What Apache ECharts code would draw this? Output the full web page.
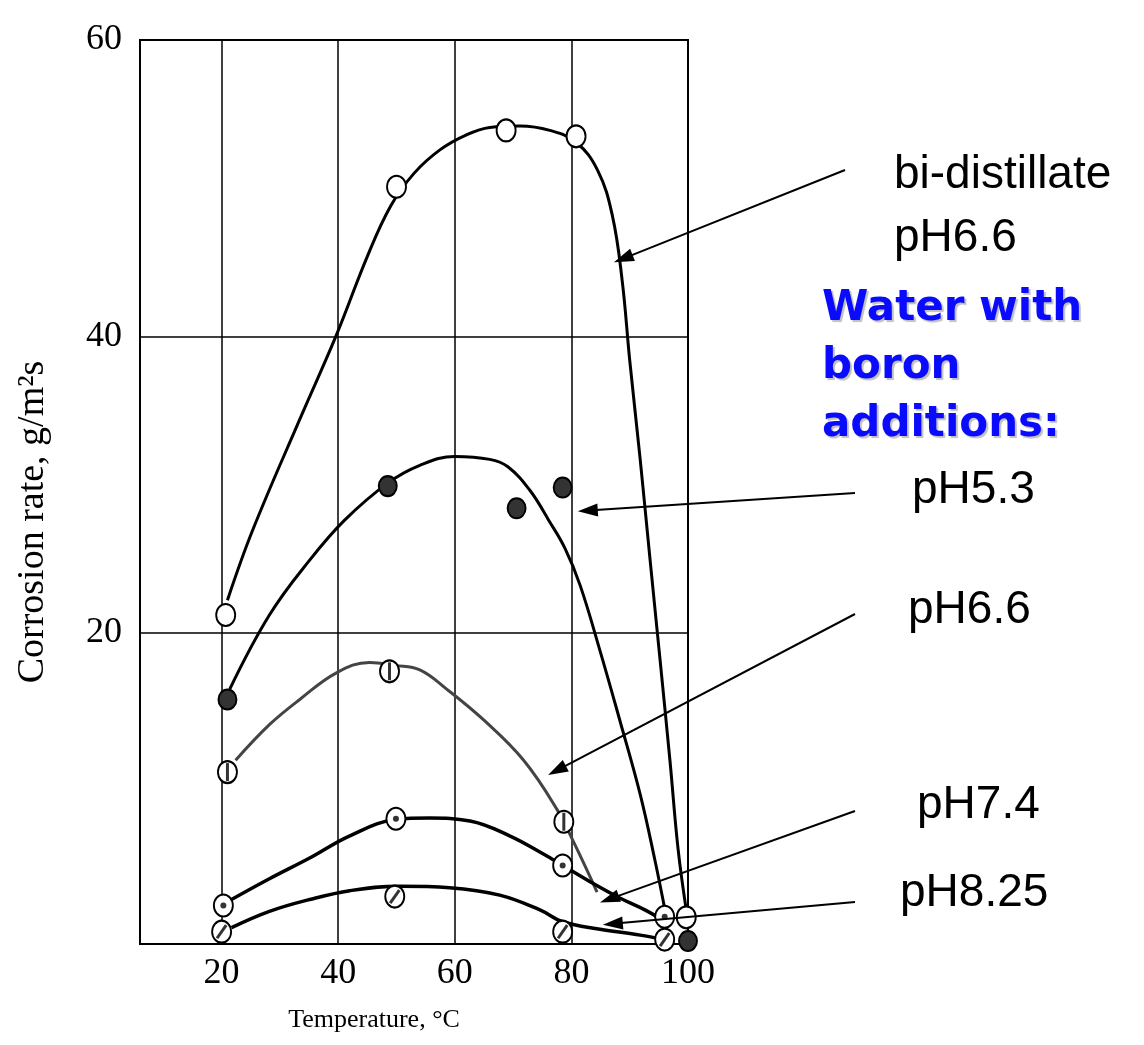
<!DOCTYPE html>
<html><head><meta charset="utf-8">
<script src="https://cdn.jsdelivr.net/npm/echarts@6/dist/echarts.min.js"></script>
<style>html,body{margin:0;padding:0;background:#fff}#main{width:1144px;height:1045px}</style>
</head><body><div id="main"></div>
<script>
// axis ticks
const xTicks = [20, 40, 60, 80, 100];
const yTicks = [20, 40, 60];

// measured points (temperature, corrosion rate)
const bidistT = [20.7, 50.0, 68.8, 80.8, 99.7];
const bidistR = [21.2, 50.1, 53.9, 53.5, 0.8];
const ph53T = [21.0, 48.5, 70.6, 78.5, 100];
const ph53R = [15.5, 29.9, 28.4, 29.8, -0.8];
const ph66T = [21.0, 48.8, 78.7];
const ph66R = [10.6, 17.4, 7.25];
const ph74T = [20.3, 49.9, 78.5, 96.0];
const ph74R = [1.6, 7.45, 4.3, 0.84];
const ph825T = [20.0, 49.7, 78.5, 96.0];
const ph825R = [-0.17, 2.2, -0.17, -0.7];

// hand-drawn fitting curves
const curve1T = [21.0, 25.3, 33.4, 39.7, 45.0, 49.0, 53.0, 57.5, 62.0, 66.0, 71.2, 76.3, 80.8, 84.5, 87.0, 88.7, 90.0, 91.8, 93.5, 95.2, 96.9, 98.3, 99.7];
const curve1R = [22.2, 26.9, 34.4, 40.1, 45.4, 48.8, 51.0, 52.6, 53.6, 54.1, 54.2, 53.9, 53.1, 51.2, 48.2, 43.8, 38.4, 31.7, 24.9, 18.2, 11.4, 5.4, 1.3];
const curve2T = [21.4, 28.2, 35.1, 41.1, 48.5, 54.0, 60.0, 66.0, 69.1, 72.9, 76.1, 78.9, 81.5, 84.9, 88.3, 91.8, 94.3, 96.2];
const curve2R = [16.2, 21.2, 24.9, 27.6, 30.1, 31.3, 31.9, 31.7, 31.2, 29.6, 27.6, 25.7, 23.2, 18.8, 14.1, 9.1, 4.7, 1.0];
const curve3T = [22.4, 28.2, 33.4, 39.7, 45.4, 49.7, 54.0, 58.6, 65.0, 71.8, 77.5, 80.6, 84.4];
const curve3R = [11.4, 13.8, 15.5, 17.3, 18.0, 17.8, 17.5, 16.2, 14.1, 11.4, 8.1, 5.7, 2.5];
const curve4T = [21.7, 28.2, 35.1, 42.0, 49.9, 55.7, 62.6, 69.4, 75.5, 78.5, 83.2, 88.3, 92.6, 95.7];
const curve4R = [2.0, 3.4, 4.8, 6.3, 7.4, 7.5, 7.3, 6.3, 5.0, 4.3, 3.2, 2.1, 1.3, 0.6];
const curve5T = [21.7, 28.2, 35.1, 42.0, 50.6, 59.1, 67.7, 74.6, 78.5, 84.9, 91.8, 95.7];
const curve5R = [0.1, 1.2, 2.0, 2.6, 2.9, 2.8, 2.3, 1.3, 0.5, 0.0, -0.4, -0.7];

// annotation labels and arrow tips (data coords of the curve pointed at)
const labelTexts = ['bi-distillate', 'pH6.6', 'pH5.3', 'pH6.6', 'pH7.4', 'pH8.25'];
const groupText = 'Water with\nboron\nadditions:';
const arrowTipT = [87.3, 81.1, 76.0, 84.9, 85.4];
const arrowTipR = [45.0, 28.2, 10.4, 1.8, 0.3];

const zip = (a, b) => a.map((v, i) => [v, b[i]]);

const chart = echarts.init(document.getElementById('main'), null, {renderer: 'canvas'});

const serif = '"Liberation Serif", "Times New Roman", serif';
const sans = '"Liberation Sans", Arial, sans-serif';

function curve(t, r, color, width) {
  return {
    type: 'line', data: zip(t, r), smooth: 0.4, showSymbol: false, symbol: 'none',
    lineStyle: {color: color, width: width}, silent: true, z: 2, animation: false, clip: false
  };
}
function marks(t, r, fill, size) {
  return {
    type: 'scatter', data: zip(t, r), symbol: 'circle', symbolSize: size || [19, 22],
    itemStyle: {color: fill, borderColor: '#000', borderWidth: 2, opacity: 1},
    silent: true, z: 3, animation: false
  };
}
function inner(t, r, symbol, size, rotate) {
  return {
    type: 'scatter', data: zip(t, r), symbol: symbol, symbolSize: size, symbolRotate: rotate || 0,
    itemStyle: {color: '#000'}, silent: true, z: 4, animation: false
  };
}

function txt(id, text, left, top) {
  return {type: 'text', id: id, left: left, top: top, silent: true, z: 10,
    style: {text: text, font: '46px ' + sans, fill: '#000', lineHeight: 52}};
}
const textGraphics = [
  txt('t0', labelTexts[0], 894, 149),
  txt('t1', labelTexts[1], 894, 212),
  {type: 'text', id: 'tg', left: 822, top: 280, silent: true, z: 10, style: {
    text: groupText, font: 'bold 42px "DejaVu Sans", sans-serif', fill: '#0a0aff', lineHeight: 58,
    textShadowColor: 'rgba(0,0,0,0.25)', textShadowBlur: 1, textShadowOffsetX: 2, textShadowOffsetY: 2}},
  txt('t2', labelTexts[2], 912, 464),
  txt('t3', labelTexts[3], 908, 584),
  txt('t4', labelTexts[4], 917, 779),
  txt('t5', labelTexts[5], 900, 867)
];

const option = {
  backgroundColor: '#fff',
  animation: false,
  grid: {left: 140, right: 456, top: 40, bottom: 101, show: true, borderColor: '#000', borderWidth: 2, containLabel: false},
  xAxis: {
    type: 'value', min: 6, max: 100,
    name: 'Temperature, °C', nameLocation: 'middle', nameGap: 63,
    nameTextStyle: {fontFamily: serif, fontSize: 26, color: '#000', padding: [0, 80, 0, 0]},
    axisLine: {show: true, onZero: false, lineStyle: {color: '#000', width: 2}},
    axisTick: {show: false, customValues: xTicks},
    axisLabel: {customValues: xTicks, fontFamily: serif, fontSize: 36, color: '#000', margin: 12},
    splitLine: {show: true, lineStyle: {color: '#000', width: 1.5}}
  },
  yAxis: {
    type: 'value', min: -1, max: 60,
    name: 'Corrosion rate, g/m²s', nameLocation: 'middle', nameGap: 88,
    nameTextStyle: {fontFamily: serif, fontSize: 38, color: '#000', padding: [0, 60, 0, 0]},
    axisLine: {show: true, onZero: false, lineStyle: {color: '#000', width: 2}},
    axisTick: {show: false, customValues: yTicks},
    axisLabel: {customValues: yTicks, fontFamily: serif, fontSize: 36, color: '#000', margin: 18},
    splitLine: {show: true, lineStyle: {color: '#000', width: 1.5}}
  },
  series: [
    curve(curve1T, curve1R, '#000', 3),
    curve(curve2T, curve2R, '#000', 3),
    curve(curve3T, curve3R, '#444', 3),
    curve(curve4T, curve4R, '#000', 3.5),
    curve(curve5T, curve5R, '#000', 3.5),
    marks(bidistT, bidistR, '#fff'),
    marks(ph53T, ph53R, '#333', [18, 20]),
    marks(ph66T, ph66R, '#fff'),
    marks(ph74T, ph74R, '#fff'),
    marks(ph825T, ph825R, '#fff'),
    inner(ph66T, ph66R, 'rect', [3, 18]),
    inner(ph74T, ph74R, 'circle', 6),
    inner(ph825T, ph825R, 'rect', [3, 16], -35)
  ],
  graphic: textGraphics
};
chart.setOption(option);

// arrows: tail near the label, tip on the curve (converted through the axes)
const arrowTails = [[845, 170], [855, 493], [855, 614], [855, 811], [855, 902]];
const arrowGraphics = [];
arrowTails.forEach((tail, i) => {
  const tip = chart.convertToPixel({gridIndex: 0}, [arrowTipT[i], arrowTipR[i]]);
  const dx = tip[0] - tail[0], dy = tip[1] - tail[1];
  const len = Math.sqrt(dx * dx + dy * dy);
  const ux = dx / len, uy = dy / len;
  const L = 20, W = 6.5;
  const bx = tip[0] - ux * L, by = tip[1] - uy * L;
  arrowGraphics.push({type: 'line', id: 'al' + i, silent: true, z: 9,
    shape: {x1: tail[0], y1: tail[1], x2: bx + ux * 2, y2: by + uy * 2},
    style: {stroke: '#000', lineWidth: 2}});
  arrowGraphics.push({type: 'polygon', id: 'ah' + i, silent: true, z: 9,
    shape: {points: [[tip[0], tip[1]], [bx - uy * W, by + ux * W], [bx + uy * W, by - ux * W]]},
    style: {fill: '#000'}});
});
chart.setOption({graphic: textGraphics.concat(arrowGraphics)});
</script>
</body></html>
